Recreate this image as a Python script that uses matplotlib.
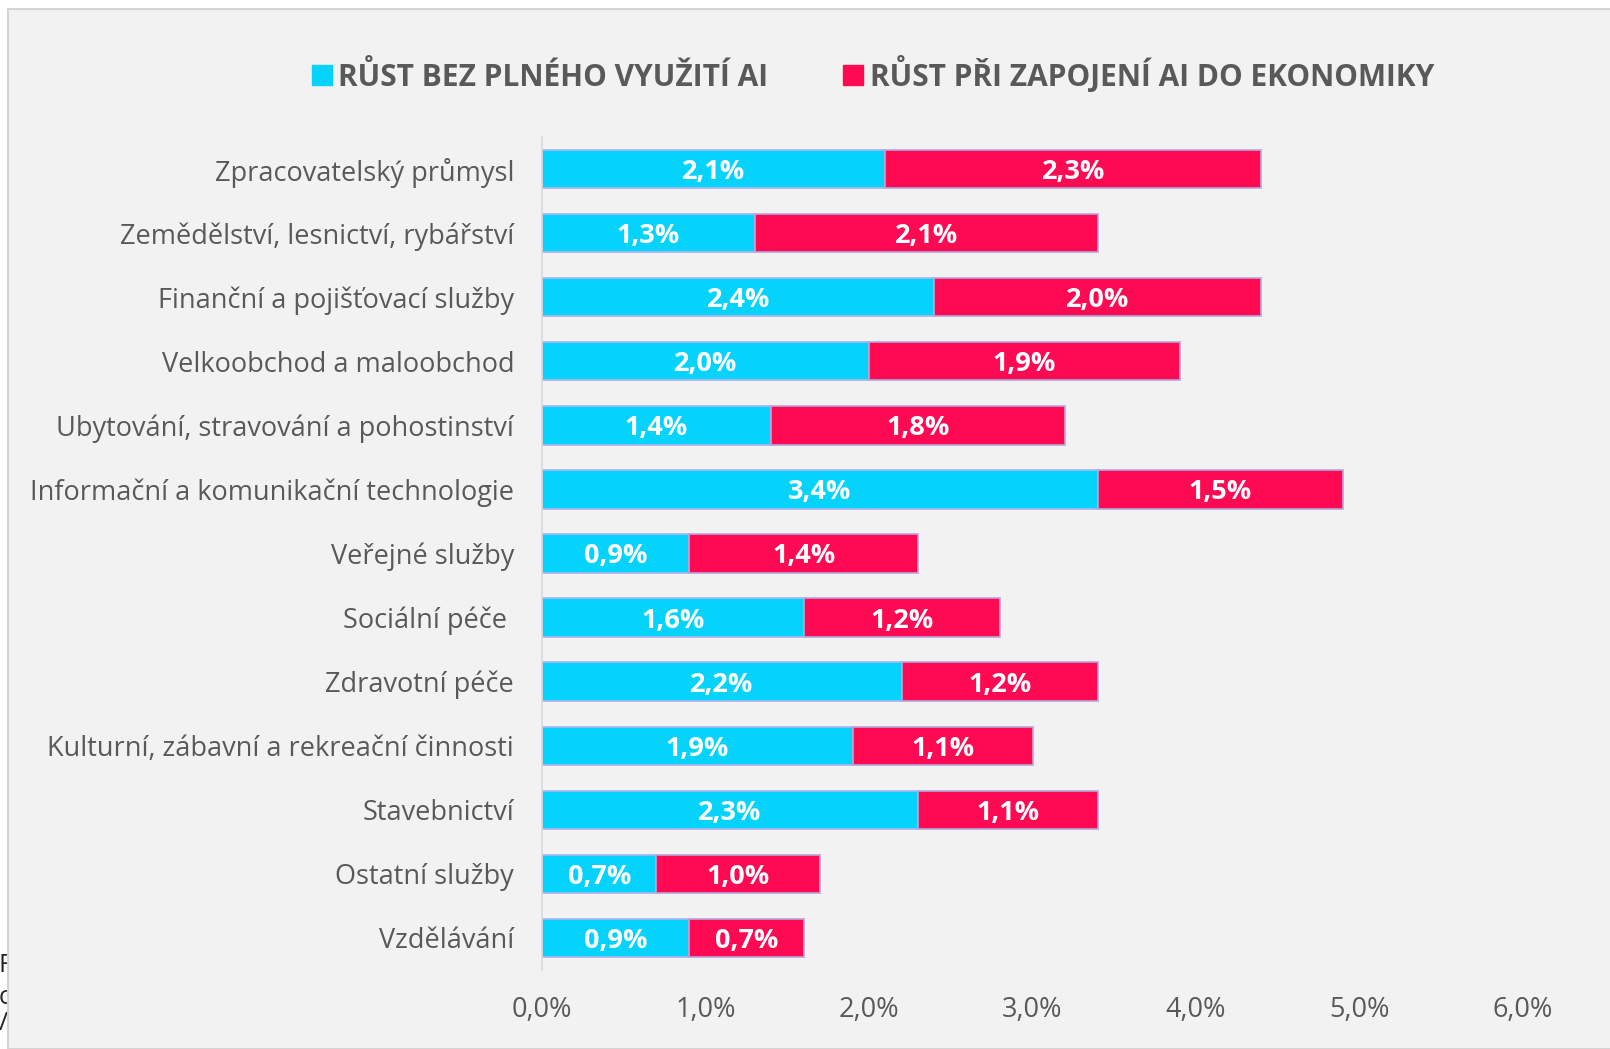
import matplotlib
matplotlib.use("Agg")
import matplotlib.pyplot as plt
from matplotlib.patches import Rectangle
from matplotlib.lines import Line2D

# ── Data ──────────────────────────────────────────────────────────────────────
sectors = [
    "Zpracovatelský průmysl",
    "Zemědělství, lesnictví, rybářství",
    "Finanční a pojišťovací služby",
    "Velkoobchod a maloobchod",
    "Ubytování, stravování a pohostinství",
    "Informační a komunikační technologie",
    "Veřejné služby",
    "Sociální péče ",
    "Zdravotní péče",
    "Kulturní, zábavní a rekreační činnosti",
    "Stavebnictví",
    "Ostatní služby",
    "Vzdělávání",
]
growth_base = [2.1, 1.3, 2.4, 2.0, 1.4, 3.4, 0.9, 1.6, 2.2, 1.9, 2.3, 0.7, 0.9]
growth_ai = [2.3, 2.1, 2.0, 1.9, 1.8, 1.5, 1.4, 1.2, 1.2, 1.1, 1.1, 1.0, 0.7]
x_ticks = [0, 1, 2, 3, 4, 5, 6]
series_names = ["RŮST BEZ PLNÉHO VYUŽITÍ AI", "RŮST PŘI ZAPOJENÍ AI DO EKONOMIKY"]

CYAN = "#05d3fb"
RED = "#fe0a52"
GREY_TXT = "#595959"
FONT = "Open Sans"


def pct(v):
    return f"{v:.1f}%".replace(".", ",")


# ── Figure ────────────────────────────────────────────────────────────────────
fig = plt.figure(figsize=(16.1, 10.49), dpi=100)
fig.patch.set_facecolor("white")

# cut-off note text peeking out on the far left
for yy, s in [(965, "F"), (998, "c"), (1023, "/")]:
    fig.text(-1 / 1610, 1 - yy / 1049, s, fontsize=18, family=FONT,
             color="#222222", va="center", ha="left", zorder=-3)

# grey panel
panel = Rectangle((8 / 1610, 0), 1.0, 1 - 9 / 1049, transform=fig.transFigure,
                  facecolor="#f2f2f2", edgecolor="#d4d4d4", linewidth=1.5,
                  zorder=-1)
fig.add_artist(panel)

ax = fig.add_axes([542 / 1610, 79 / 1049, 981 / 1610, 833 / 1049])
ax.set_facecolor("none")

ypos = list(range(len(sectors)))
ax.barh(ypos, growth_base, height=0.6, color=CYAN,
        edgecolor="#a9b4ee", linewidth=1.2, zorder=2)
ax.barh(ypos, growth_ai, left=growth_base, height=0.6, color=RED,
        edgecolor="#b9a4dc", linewidth=1.2, zorder=2)

for i in ypos:
    b, a = growth_base[i], growth_ai[i]
    ax.text(b / 2, i, pct(b), ha="center", va="center_baseline", color="white",
            fontsize=19.5, fontweight="bold", family=FONT, zorder=3)
    ax.text(b + a / 2, i, pct(a), ha="center", va="center_baseline",
            color="white", fontsize=19.5, fontweight="bold", family=FONT,
            zorder=3)

ax.set_xlim(0, 6)
ax.set_ylim(len(sectors) - 0.5, -0.5)
ax.set_xticks(x_ticks)
ax.set_xticklabels([pct(v) for v in x_ticks], fontsize=19.5, family=FONT,
                   color=GREY_TXT)
ax.set_yticks(ypos)
ax.set_yticklabels(sectors, fontsize=19.5, family=FONT, color=GREY_TXT)
ax.tick_params(axis="both", length=0)
ax.tick_params(axis="y", pad=20)
ax.tick_params(axis="x", pad=19)

for name, spine in ax.spines.items():
    spine.set_visible(name == "left")
ax.spines["left"].set_color("#d9d9d9")
ax.spines["left"].set_linewidth(1.2)

# ── Legend ────────────────────────────────────────────────────────────────────
handles = [
    Line2D([], [], marker="s", linestyle="none", markersize=14,
           markerfacecolor=CYAN, markeredgecolor=CYAN),
    Line2D([], [], marker="s", linestyle="none", markersize=14,
           markerfacecolor=RED, markeredgecolor=RED),
]
fig.legend(handles, series_names, loc="center", ncol=2,
           bbox_to_anchor=(874 / 1610, 1 - 74 / 1049), frameon=False,
           handlelength=0.5, handletextpad=0.3, columnspacing=2.6,
           prop={"family": FONT, "weight": "bold", "size": 21.5},
           labelcolor=GREY_TXT)

fig.savefig("out.png", dpi=100, facecolor=fig.get_facecolor())
